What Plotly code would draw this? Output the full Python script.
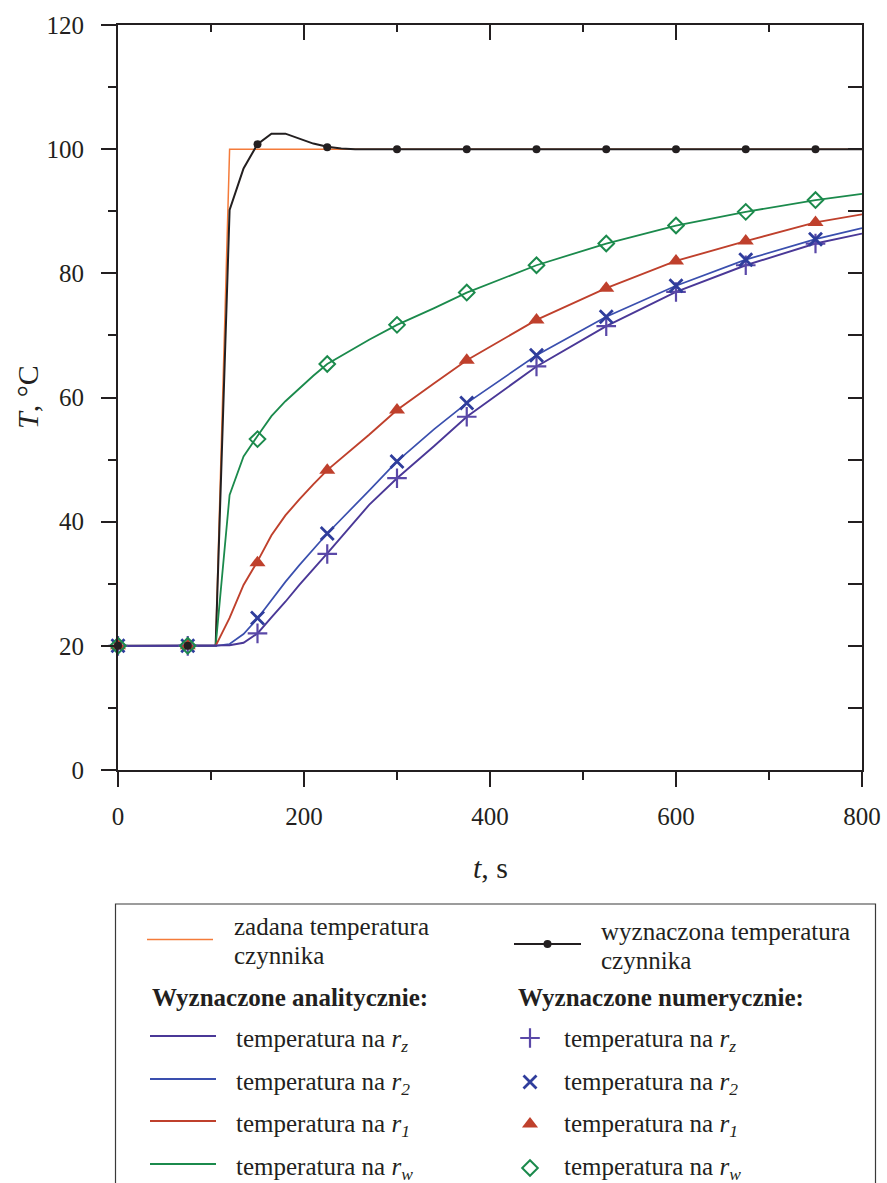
import plotly.graph_objects as go

# ---- data -------------------------------------------------------------
# set (prescribed) fluid temperature
t_set = [0, 105, 120, 800]
T_set = [20, 20, 100, 100]

# fluid temperature obtained from the inverse solution (line)
t_fluid = [0, 105, 120, 135, 150, 165, 180, 195, 210, 225, 240, 255, 270, 800]
T_fluid = [20, 20, 90.2, 96.9, 100.8, 102.5, 102.5, 101.7, 100.9, 100.4, 100.1, 100.0, 100.0, 100.0]

# analytical solution
t_an = [0, 105, 120, 135, 150, 165, 180, 195, 210, 225, 270, 300, 340, 375,
        450, 525, 600, 675, 750, 800]
T_an_rz = [20, 20, 20.1, 20.5, 22.0, 24.6, 27.1, 29.8, 32.3, 34.9, 42.7, 47.0, 52.2, 56.9,
           65.0, 71.5, 77.0, 81.3, 84.8, 86.4]
T_an_r2 = [20, 20, 20.3, 21.9, 24.4, 27.4, 30.3, 33.0, 35.6, 38.1, 45.0, 49.7, 54.9, 59.1,
           66.8, 73.0, 78.0, 82.2, 85.5, 87.3]
T_an_r1 = [20, 20, 24.5, 29.8, 33.6, 37.8, 41.0, 43.6, 46.0, 48.3, 54.0, 58.0, 62.3, 66.0,
           72.5, 77.6, 82.0, 85.2, 88.2, 89.5]
T_an_rw = [20, 20, 44.3, 50.5, 53.8, 57.0, 59.4, 61.5, 63.5, 65.4, 69.3, 71.7, 74.4, 76.9,
           81.3, 84.8, 87.7, 89.9, 91.8, 92.8]

# numerical solution (markers)
t_num = [0, 75, 150, 225, 300, 375, 450, 525, 600, 675, 750]
T_num_fluid = [20, 20, 100.8, 100.3, 100, 100, 100, 100, 100, 100, 100]
T_num_rz = [20, 20, 22.0, 34.8, 47.0, 56.9, 65.0, 71.5, 77.0, 81.3, 84.8]
T_num_r2 = [20, 20, 24.5, 38.1, 49.7, 59.1, 66.8, 73.0, 78.0, 82.2, 85.5]
T_num_r1 = [20, 20, 33.4, 48.3, 58.0, 66.0, 72.5, 77.6, 82.0, 85.2, 88.2]
T_num_rw = [20, 20, 53.3, 65.4, 71.7, 76.9, 81.3, 84.8, 87.7, 89.9, 91.8]

# ---- style -------------------------------------------------------------
W, H = 887, 1183
FONT = "Liberation Serif, Times New Roman, serif"
INK = "#231f20"
C_SET = "#f47b3a"
C_RZ, C_RZ_M = "#4a3897", "#5a48a8"
C_R2, C_R2_M = "#3a4fae", "#2f3d9c"
C_R1 = "#bf402c"
C_RW = "#1b8a4c"

# plot area in pixels
PX0, PX1, PY0, PY1 = 118, 862, 25, 770

# marker styles shared by the plot and the legend panel
M_RZ = dict(symbol="cross-thin", size=14, color=C_RZ_M, line=dict(color=C_RZ_M, width=2.2))
M_R2 = dict(symbol="x-thin", size=13, color=C_R2_M, line=dict(color=C_R2_M, width=2.8))
M_R1 = dict(symbol="triangle-up", size=14, color=C_R1, line=dict(width=0))
M_RW = dict(symbol="diamond-open", size=12, color=C_RW, line=dict(color=C_RW, width=2))
M_FL = dict(symbol="circle", size=8, color=INK, line=dict(width=0))

fig = go.Figure()

def line(x, y, color, width):
    fig.add_trace(go.Scatter(x=x, y=y, mode="lines", line=dict(color=color, width=width),
                             hoverinfo="skip", showlegend=False))

def marks(x, y, style):
    fig.add_trace(go.Scatter(x=x, y=y, mode="markers", cliponaxis=False, marker=style,
                             hoverinfo="skip", showlegend=False))

line(t_set, T_set, C_SET, 1.5)
line(t_fluid, T_fluid, INK, 2)
line(t_an, T_an_rw, C_RW, 1.8)
line(t_an, T_an_r1, C_R1, 1.9)
line(t_an, T_an_r2, C_R2, 1.7)
line(t_an, T_an_rz, C_RZ, 1.9)

marks(t_num, T_num_rz, M_RZ)
marks(t_num, T_num_r2, M_R2)
marks(t_num, T_num_r1, M_R1)
marks(t_num, T_num_rw, M_RW)
marks(t_num, T_num_fluid, M_FL)

# ---- legend panel (pixel coordinates on an auxiliary hidden subplot) ---
def px_line(x0, x1, y, color, width):
    fig.add_shape(type="line", xref="x3", yref="y3", x0=x0, x1=x1, y0=y, y1=y,
                  line=dict(color=color, width=width))

def px_text(x, y, text, size=25, bold=False):
    fig.add_annotation(xref="x3", yref="y3", x=x, y=y, text=f"<b>{text}</b>" if bold else text,
                       showarrow=False, xanchor="left", yanchor="middle",
                       font=dict(family=FONT, size=size, color=INK))

fig.add_shape(type="rect", xref="x3", yref="y3", x0=115.5, x1=875.5, y0=904, y1=1200,
              line=dict(color="#3a3a3a", width=1.2), fillcolor="rgba(0,0,0,0)")

px_line(147, 213, 939.5, C_SET, 1.5)
px_text(232, 926, "zadana temperatura")
px_text(232, 955, "czynnika")

px_line(514, 581, 944, INK, 2)
px_text(599, 931, "wyznaczona temperatura")
px_text(599, 960, "czynnika")

px_text(150, 997, "Wyznaczone analitycznie:", bold=True)
px_text(516, 997, "Wyznaczone numerycznie:", bold=True)

rows_y = [1037, 1080, 1122, 1165]
subs = ["z", "2", "1", "w"]
for yy, c, s in zip(rows_y, [C_RZ, C_R2, C_R1, C_RW], subs):
    px_line(150, 216, yy - 1, c, 1.8)
    label = f"temperatura na <i>r</i><sub><i>{s}</i></sub>"
    px_text(234, yy + 3, label)
    px_text(562, yy + 3, label)

leg_x = [530, 530, 530, 530, 547.5]
leg_y = [1038, 1082, 1124, 1168, 944]
for lx, ly, st in zip(leg_x, leg_y, [M_RZ, M_R2, M_R1, M_RW, M_FL]):
    fig.add_trace(go.Scatter(x=[lx], y=[ly], xaxis="x3", yaxis="y3", mode="markers",
                             marker=st, hoverinfo="skip", showlegend=False))

# axis titles
fig.add_annotation(xref="x3", yref="y3", x=490, y=867, text="<i>t</i>, s", showarrow=False,
                   xanchor="center", yanchor="middle", font=dict(family=FONT, size=30, color=INK))
fig.add_annotation(xref="x3", yref="y3", x=27, y=397, text="<i>T</i>, °C", showarrow=False,
                   textangle=-90, xanchor="center", yanchor="middle",
                   font=dict(family=FONT, size=30, color=INK))

# ---- axes --------------------------------------------------------------
xd = [PX0 / W, PX1 / W]
yd = [1 - PY1 / H, 1 - PY0 / H]
tick_font = dict(family=FONT, size=25, color=INK)
axis_common = dict(showgrid=False, zeroline=False, showline=True, linecolor=INK, linewidth=2,
                   tickcolor=INK, tickwidth=2, automargin=False)

fig.update_layout(
    width=W, height=H, autosize=False,
    margin=dict(l=0, r=0, t=0, b=0, pad=0),
    paper_bgcolor="white", plot_bgcolor="rgba(0,0,0,0)",
    showlegend=False,
    xaxis=dict(domain=xd, range=[0, 800], anchor="y", ticks="outside", ticklen=15,
               tick0=0, dtick=200, tickfont=tick_font, ticklabelstandoff=8,
               minor=dict(ticks="outside", ticklen=8, dtick=100, tickcolor=INK, tickwidth=2),
               **axis_common),
    yaxis=dict(domain=yd, range=[0, 120], anchor="x", ticks="outside", ticklen=15,
               tick0=0, dtick=20, tickfont=tick_font, ticklabelstandoff=12,
               minor=dict(ticks="outside", ticklen=8, dtick=10, tickcolor=INK, tickwidth=2),
               **axis_common),
    xaxis2=dict(domain=xd, range=[0, 800], overlaying="x", side="top", anchor="y",
                ticks="inside", ticklen=15, tick0=0, dtick=200, showticklabels=False,
                minor=dict(ticks="inside", ticklen=7, dtick=100, tickcolor=INK, tickwidth=2),
                **axis_common),
    yaxis2=dict(domain=yd, range=[0, 120], overlaying="y", side="right", anchor="x",
                ticks="inside", ticklen=14, tick0=0, dtick=10, showticklabels=False,
                **axis_common),
    xaxis3=dict(domain=[0, 1], range=[0, W], anchor="y3", visible=False, fixedrange=True,
                automargin=False),
    yaxis3=dict(domain=[0, 1], range=[H, 0], anchor="x3", visible=False, fixedrange=True,
                automargin=False),
)

# invisible carriers so the mirrored axes are rendered
fig.add_trace(go.Scatter(x=[0], y=[0], xaxis="x2", yaxis="y", mode="markers",
                         marker=dict(opacity=0), hoverinfo="skip", showlegend=False))
fig.add_trace(go.Scatter(x=[0], y=[0], xaxis="x", yaxis="y2", mode="markers",
                         marker=dict(opacity=0), hoverinfo="skip", showlegend=False))

# the figure fills the page exactly: no body margin, no scrollbars
page_css = (
    "var s=document.createElement('style');"
    "s.textContent='html,body{margin:0;padding:0;overflow:hidden;}';"
    "document.head.appendChild(s);"
)
fig.write_html("out.html", post_script=page_css)
